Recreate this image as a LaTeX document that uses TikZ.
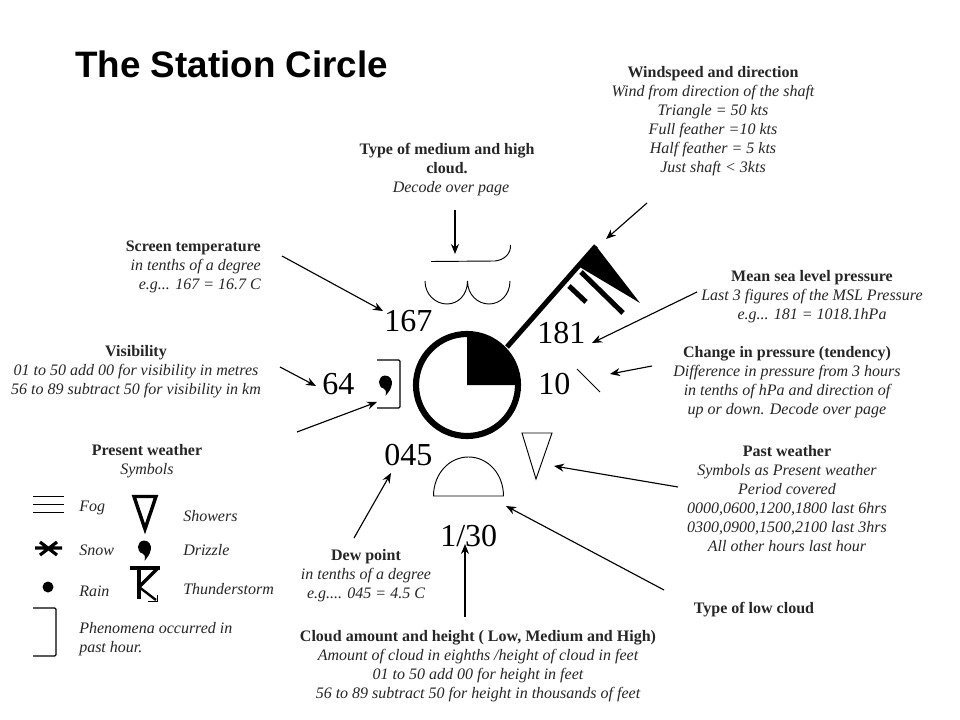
\documentclass[tikz,border=0pt]{standalone}
\usepackage{fontspec}
\setmainfont{Liberation Serif}
\newfontfamily\titlefont{Liberation Sans}
\usetikzlibrary{arrows.meta}
\newcommand{\hd}[1]{{\bfseries\upshape #1}}
\newcommand{\dropglyph}[2]{\fill[shift={(#1,#2)},scale=1.3] (0,-5) .. controls (4,-5) and (6,-1) .. (5.2,2) .. controls (4.5,6) and (2.5,8) .. (0.5,10.5) .. controls (1,7) and (0.5,5.5) .. (-1,5) .. controls (-6,4) and (-6,-4.5) .. (0,-5) -- cycle;}
\tikzset{
  x=0.75pt,y=-0.75pt,
  note/.style={font=\fontsize{12}{14.25}\selectfont\itshape,align=center,inner sep=0pt,text=black!85},
  noter/.style={note,align=right,anchor=east},
  legend/.style={font=\fontsize{12}{14.25}\selectfont\itshape,align=left,anchor=west,inner sep=0pt,text=black!85},
  big/.style={font=\fontsize{24}{28}\selectfont,anchor=base west,inner sep=0pt},
  ptr/.style={line width=0.85pt,-{Stealth[length=7.5pt,width=6pt]}},
  thin sym/.style={line width=0.7pt},
}
\begin{document}
\begin{tikzpicture}
\useasboundingbox (0,0) rectangle (960,720);
\fill[white] (0,0) rectangle (960,720);

\node[anchor=base west,inner sep=0pt,font=\titlefont\bfseries\fontsize{27.6}{32}\selectfont] (title) at (75,78) {The Station Circle};

\node[note] (wind) at (713,121.5) {\hd{Windspeed and direction}\\Wind from direction of the shaft\\Triangle = 50 kts\\Full feather =10 kts\\Half feather = 5 kts\\Just shaft < 3kts};
\node[note] (medium) at (447,169.5) {\hd{Type of medium and high}\\\hd{cloud.}\\\hspace*{6pt}Decode over page};
\node[noter] (screen) at (261,267) {\hd{Screen temperature}\\in tenths of a degree\\e.g... 167 = 16.7 C};
\node[note] (vis) at (136,372) {\hd{Visibility}\\01 to 50 add 00 for visibility in metres\\56 to 89 subtract 50 for visibility in km};
\node[note] (present) at (147,461) {\hd{Present weather}\\Symbols};
\node[note] (msl) at (812,297) {\hd{Mean sea level pressure}\\Last 3 figures of the MSL Pressure\\e.g... 181 = 1018.1hPa};
\node[note] (tend) at (787,382) {\hd{Change in pressure (tendency)}\\Difference in pressure from 3 hours\\in tenths of hPa and direction of\\up or down. Decode over page};
\node[note] (past) at (787,499) {\hd{Past weather}\\Symbols as Present weather\\Period covered\\0000,0600,1200,1800 last 6hrs\\0300,0900,1500,2100 last 3hrs\\All other hours last hour};
\node[note] (low) at (754,610) {\hd{Type of low cloud}};
\node[note] (dew) at (366,576) {\hd{Dew point}\\in tenths of a degree\\e.g.... 045 = 4.5 C};
\node[note] (amount) at (478,666) {\hd{Cloud amount and height ( Low, Medium and High)}\\Amount of cloud in eighths /height of cloud in feet\\01 to 50 add 00 for height in feet\\56 to 89 subtract 50 for height in thousands of feet};

\node[legend] (fog) at (79,508) {Fog};
\node[legend] (snow) at (79,550) {Snow};
\node[legend] (rain) at (79,591) {Rain};
\node[legend] (showers) at (183,516) {Showers};
\node[legend] (drizzle) at (183,550) {Drizzle};
\node[legend] (thunder) at (183,589) {Thunderstorm};
\node[legend] (phen) at (79,639.5) {Phenomena occurred in\\past hour.};

\node[big] (n167) at (384,331) {167};
\node[big] (n181) at (537,344) {181};
\node[big] (n64) at (322,394) {64};
\node[big] (n10) at (538,394) {10};
\node[big] (n045) at (384,465) {045};
\node[big] (n130) at (440,546) {1/30};

% station circle
\fill (467,385) -- (467,334) arc[start angle=-90,end angle=0,radius=51] -- cycle;
\draw[line width=4.6pt] (467,385) circle[radius=51];
% wind shaft, pennant and feathers
\coordinate (shaftA) at (507,347);
\coordinate (shaftB) at (596,246);
\draw[line width=3.8pt] (shaftA) -- (shaftB);
\fill (shaftB) -- (640,303) -- (578,266) -- cycle;
\draw[line width=3.8pt] (581,272) -- (623,313);
\draw[line width=3.8pt] (569,286) -- (586,302);

% cloud symbols
\draw[thin sym] (431,261.5) -- (495,261) .. controls (504,260) and (511,254) .. (510.5,245);
\draw[thin sym] (425,281) .. controls (425,295) and (436,304) .. (447,304) .. controls (458,304) and (467.5,295) .. (467.5,281) .. controls (467.5,295) and (478,304) .. (489,304) .. controls (500,304) and (510,295) .. (510,281);
\draw[thin sym] (433.5,496) -- (503.5,496) .. controls (503.5,474) and (488,457) .. (468.5,457) .. controls (449,457) and (433.5,474) .. (433.5,496) -- cycle;
\draw[thin sym] (522,433) -- (552,433) -- (536,479) -- cycle;
\draw[thin sym] (577,369) -- (600,392);
\draw[line width=0.9pt,rounded corners=1pt] (377,360) -- (400,360) -- (400,408) -- (377,408);
\dropglyph{385}{382}

% legend symbols
\draw[thin sym] (33,496) -- (64,496) (33,504) -- (64,504) (33,512) -- (64,512);
\draw[line width=2.4pt] (35,548) -- (62,548) (40,542) -- (57,555) (57,542) -- (40,555);
\fill (48,587) circle[radius=5.5];
\draw[line width=0.9pt,rounded corners=1pt] (33,608) -- (56,608) -- (56,656) -- (33,656);
\draw[line width=2.6pt,miter limit=10] (134,496.5) -- (156,496.5) -- (145,529) -- cycle;
\dropglyph{144}{547}
\draw[line width=2.6pt] (130,568) -- (160,568) (139,568) -- (139,599);
\draw[line width=2.6pt] (158,568) -- (139,587);
\draw[line width=1.8pt] (139,587) -- (156,600);
\draw[thin sym] (157,595) -- (157,601) -- (148,601);

% leader arrows
\coordinate (a1) at (647,203); \coordinate (a1t) at (606,239);
\coordinate (a2) at (455,210); \coordinate (a2t) at (455,254);
\coordinate (a3) at (282,256); \coordinate (a3t) at (383,311);
\coordinate (a4) at (697,292); \coordinate (a4t) at (592,343);
\coordinate (a5) at (652,366); \coordinate (a5t) at (610,374);
\coordinate (a6) at (678,487); \coordinate (a6t) at (554,466);
\coordinate (a7) at (664,590); \coordinate (a7t) at (506,506);
\coordinate (a8) at (465,617); \coordinate (a8t) at (465,544);
\coordinate (a9) at (354,538); \coordinate (a9t) at (391,473);
\coordinate (a10) at (280,367); \coordinate (a10t) at (316,386);
\coordinate (a11) at (297,432); \coordinate (a11t) at (377,402);
\foreach \s/\t in {a1/a1t,a2/a2t,a3/a3t,a4/a4t,a5/a5t,a6/a6t,a7/a7t,a8/a8t,a9/a9t,a10/a10t,a11/a11t}
  \draw[ptr] (\s) -- (\t);
\end{tikzpicture}
\end{document}
